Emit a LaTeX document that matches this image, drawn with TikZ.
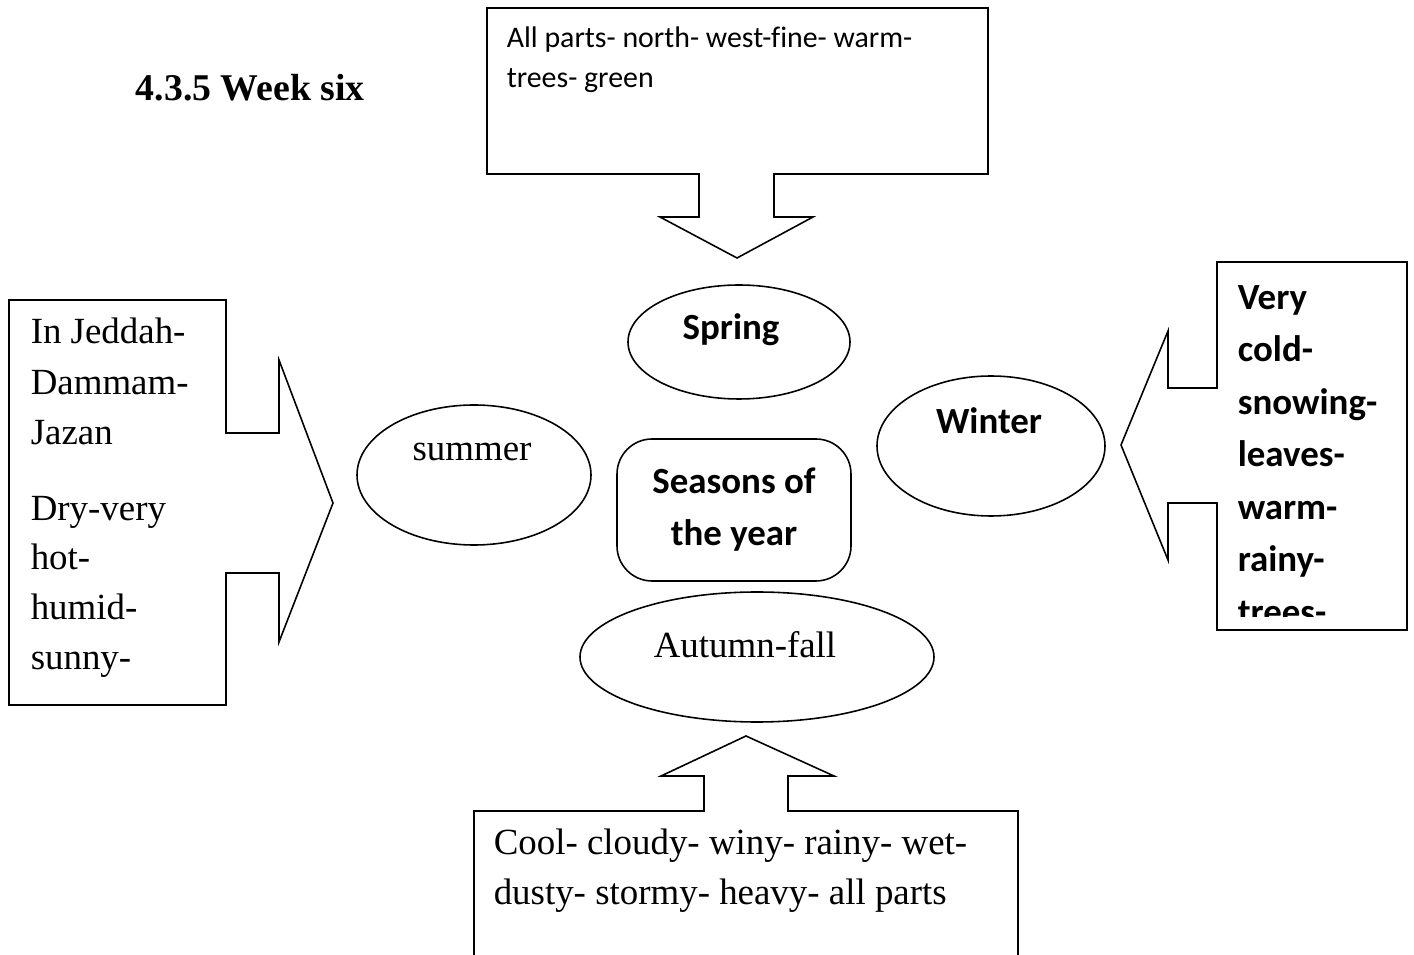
\documentclass[tikz,border=0pt]{standalone}
\usepackage{fontspec}
\setmainfont{Liberation Serif}
\newfontfamily\calibri[Ligatures=CommonOff]{Carlito}

\begin{document}
\begin{tikzpicture}[x=0.02cm,y=-0.02cm,line width=0.9pt,
    serif text/.style={font=\fontsize{21}{28}\selectfont,inner sep=0pt},
    sans text/.style={font=\calibri\fontsize{17}{27}\selectfont,inner sep=0pt},
    bold text/.style={font=\calibri\bfseries\fontsize{21}{30}\selectfont,inner sep=0pt}]
\useasboundingbox (0,0) rectangle (1414,955);

% title
\node[serif text,font=\bfseries\fontsize{21.5}{28}\selectfont,anchor=base west] (title) at (135,101) {4.3.5 Week six};

% centre box and ellipses
\draw[rounded corners=20] (617,439) rectangle (851,581);
\node[bold text,anchor=base] (seasons) at (734,494) {Seasons of};
\node[bold text,anchor=base] (year) at (734,546) {the year};

\draw (739,342) ellipse [x radius=111, y radius=57];
\node[bold text,anchor=base] (spring) at (731,340) {Spring};

\draw (991,446) ellipse [x radius=114, y radius=70];
\node[bold text,anchor=base] (winter) at (989,434) {Winter};

\draw (474,475) ellipse [x radius=117, y radius=70];
\node[serif text,anchor=base] (summer) at (472,461) {summer};

\draw (757,657) ellipse [x radius=177, y radius=65];
\node[serif text,anchor=base] (autumn) at (745,658) {Autumn-fall};

% top callout
\draw (487,8) -- (988,8) -- (988,174) -- (774,174) -- (774,217) -- (813,217)
  -- (737,258) -- (660,217) -- (699,217) -- (699,174) -- (487,174) -- cycle;
\node[sans text,anchor=base west] (springa) at (506,48) {All parts- north- west-fine- warm-};
\node[sans text,anchor=base west] (springb) at (506,88) {trees- green};

% left callout
\draw (9,300) -- (226,300) -- (226,433) -- (279,433) -- (279,360) -- (333,503)
  -- (279,642) -- (279,573) -- (226,573) -- (226,705) -- (9,705) -- cycle;
\foreach \txt/\y [count=\i] in {In Jeddah-/344,Dammam-/395,Jazan/445,Dry-very/521,hot-/570,humid-/620,sunny-/670}
  \node[serif text,anchor=base west] (summer\i) at (30,\y) {\txt};

% right callout
\draw (1217,262) -- (1407,262) -- (1407,630) -- (1217,630) -- (1217,503) -- (1168,503)
  -- (1168,560) -- (1121,445) -- (1168,331) -- (1168,388) -- (1217,388) -- cycle;
\begin{scope}
  \clip (1217,262) rectangle (1407,617);
  \foreach \txt/\y [count=\i] in {Very/310,cold-/362,snowing-/415,leaves-/467,warm-/520,rainy-/572,trees-/625}
    \node[bold text,anchor=base west] (winter\i) at (1237,\y) {\txt};
\end{scope}

% bottom callout
\draw (474,955) -- (474,811) -- (704,811) -- (704,776) -- (661,776) -- (746,736)
  -- (834,776) -- (788,776) -- (788,811) -- (1018,811) -- (1018,955);
\node[serif text,anchor=base west] (autumna) at (493,855) {Cool- cloudy- winy- rainy- wet-};
\node[serif text,anchor=base west] (autumnb) at (493,905) {dusty- stormy- heavy- all parts};
\end{tikzpicture}
\end{document}
